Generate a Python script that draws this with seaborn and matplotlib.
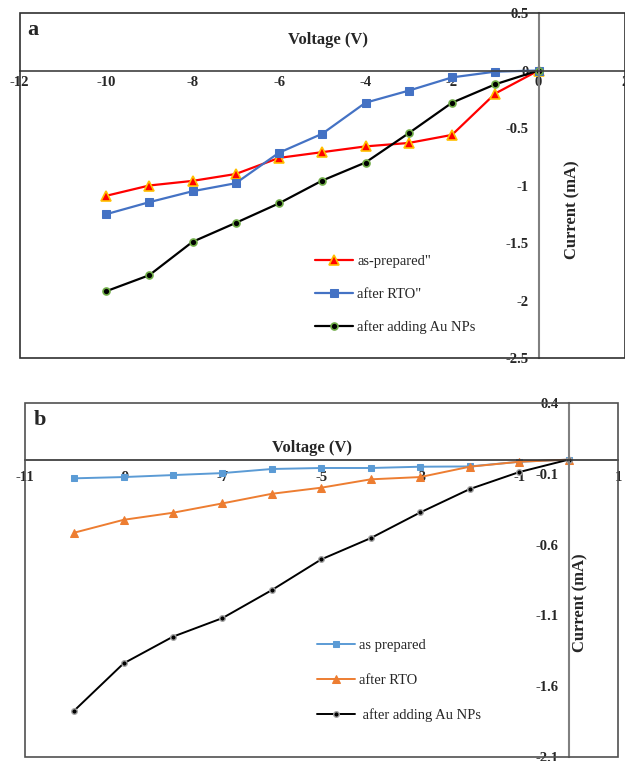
import matplotlib
matplotlib.use("Agg")
import matplotlib.pyplot as plt
from matplotlib.patches import Rectangle
import seaborn as sns
import pandas as pd

# ---------------- data ----------------
voltage = [-10, -9, -8, -7, -6, -5, -4, -3, -2, -1, 0]

# panel a
a_as_prepared = [-1.09, -1.00, -0.96, -0.90, -0.76, -0.71, -0.66, -0.63, -0.56, -0.20, 0.0]
a_after_rto = [-1.25, -1.145, -1.05, -0.98, -0.715, -0.55, -0.28, -0.175, -0.06, -0.01, 0.0]
a_after_au = [-1.92, -1.78, -1.49, -1.325, -1.155, -0.957, -0.80, -0.545, -0.28, -0.12, 0.0]
a_labels = ['as-prepared"', 'after RTO"', 'after adding Au NPs']
a_xticks = [-12, -10, -8, -6, -4, -2, 0, 2]
a_xticklabels = ["-12", "-10", "-8", "-6", "-4", "-2", "0", "2"]
a_yticks = [0.5, 0, -0.5, -1, -1.5, -2, -2.5]
a_yticklabels = ["0.5", "0", "-0.5", "-1", "-1.5", "-2", "-2.5"]

# panel b
b_as_prepared = [-0.132, -0.123, -0.109, -0.095, -0.066, -0.059, -0.059, -0.050, -0.048, -0.015, 0.0]
b_after_rto = [-0.516, -0.425, -0.375, -0.309, -0.241, -0.198, -0.139, -0.123, -0.050, -0.015, 0.0]
b_after_au = [-1.773, -1.439, -1.25, -1.119, -0.921, -0.704, -0.554, -0.373, -0.208, -0.088, 0.0]
b_labels = ["as prepared", "after RTO", " after adding Au NPs"]
b_xticks = [-11, -9, -7, -5, -3, -1, 1]
b_xticklabels = ["-11", "-9", "-7", "-5", "-3", "-1", "1"]
b_yticks = [0.4, -0.1, -0.6, -1.1, -1.6, -2.1]
b_yticklabels = ["0.4", "-0.1", "-0.6", "-1.1", "-1.6", "-2.1"]

# ---------------- style ----------------
sns.set_style("white")
plt.rcParams["font.family"] = ["Liberation Serif", "DejaVu Serif"]

W, H = 625, 761
fig = plt.figure(figsize=(W / 100, H / 100), dpi=100)


def fx(px):
    return px / W


def fy(py):
    return 1 - py / H


def setup_axes(ax, xlim, ylim, xticks, xtl, yticks, ytl, frame_color, hcol, vcol, xdir):
    ax.set_xlim(*xlim)
    ax.set_ylim(*ylim)
    for s in ["top", "right"]:
        ax.spines[s].set_visible(False)
    ax.spines["bottom"].set_position(("data", 0))
    ax.spines["left"].set_position(("data", 0))
    ax.spines["bottom"].set_color(hcol)
    ax.spines["bottom"].set_linewidth(1.2)
    ax.spines["left"].set_color(vcol)
    ax.spines["left"].set_linewidth(1.5)
    ax.set_xticks(xticks)
    ax.set_xticklabels(xtl, fontweight="bold", fontsize=10.5)
    ax.set_yticks(yticks)
    ax.set_yticklabels(ytl, fontweight="bold", fontsize=10.5)
    ax.tick_params(axis="x", direction=xdir, length=4, width=1, color=hcol, pad=4)
    ax.tick_params(axis="y", direction="in", length=4, width=1, color=vcol, pad=7)
    ax.set_xlabel("")
    ax.set_ylabel("")
    ax.add_patch(Rectangle((0, 0), 1, 1, transform=ax.transAxes, fill=False,
                           edgecolor=frame_color, linewidth=1.2, clip_on=False, zorder=5))
    ax.patch.set_alpha(0)


# ---------------- panel a ----------------
axa = fig.add_axes([fx(19.5), fy(358), fx(625 - 19.5), (358 - 13) / H])
sns.lineplot(x=voltage, y=a_as_prepared, ax=axa, color="#FF0000", linewidth=1.6,
             marker="^", markersize=7, markerfacecolor="#FF0000",
             markeredgecolor="#FFC000", markeredgewidth=1.2, label=a_labels[0])
sns.lineplot(x=voltage, y=a_after_rto, ax=axa, color="#4472C4", linewidth=1.6,
             marker="s", markersize=5.5, markerfacecolor="#4472C4",
             markeredgecolor="#4472C4", label=a_labels[1])
sns.lineplot(x=voltage, y=a_after_au, ax=axa, color="#000000", linewidth=1.6,
             marker="o", markersize=5, markerfacecolor="#000000",
             markeredgecolor="#70AD47", markeredgewidth=1.2, label=a_labels[2])
setup_axes(axa, (-12, 2), (-2.5, 0.5), a_xticks, a_xticklabels, a_yticks, a_yticklabels,
           "#303030", "#404040", "#808080", "in")
axa.legend(loc="upper left", bbox_to_anchor=(0.488, 0.30), frameon=False,
           fontsize=10.5, labelspacing=1.35, handlelength=2.6, handletextpad=0.3,
           borderpad=0, borderaxespad=0)
fig.text(fx(33), fy(30), "a", fontsize=16, fontweight="bold", ha="center", va="center")
fig.text(fx(328), fy(40), "Voltage (V)", fontsize=12, fontweight="bold", ha="center", va="center")
fig.text(fx(572), fy(210), "Current (mA)", fontsize=12, fontweight="bold", ha="center",
         va="center", rotation=90)

# ---------------- panel b ----------------
axb = fig.add_axes([fx(24.7), fy(757), fx(618 - 24.7), (757 - 403) / H])
sns.lineplot(x=voltage, y=b_as_prepared, ax=axb, color="#5B9BD5", linewidth=1.4,
             marker="s", markersize=5, markerfacecolor="#5B9BD5",
             markeredgecolor="#5B9BD5", label=b_labels[0])
sns.lineplot(x=voltage, y=b_after_rto, ax=axb, color="#ED7D31", linewidth=1.4,
             marker="^", markersize=5.5, markerfacecolor="#ED7D31",
             markeredgecolor="#ED7D31", label=b_labels[1])
sns.lineplot(x=voltage, y=b_after_au, ax=axb, color="#000000", linewidth=1.4,
             marker="o", markersize=4, markerfacecolor="#000000",
             markeredgecolor="#A5A5A5", markeredgewidth=1.0, label=b_labels[2])
setup_axes(axb, (-11, 1), (-2.1, 0.4), b_xticks, b_xticklabels, b_yticks, b_yticklabels,
           "#505050", "#303030", "#808080", "out")
axb.legend(loc="upper left", bbox_to_anchor=(0.493, 0.333), frameon=False,
           fontsize=10.5, labelspacing=1.45, handlelength=2.6, handletextpad=0.3,
           borderpad=0, borderaxespad=0)
fig.text(fx(40), fy(420), "b", fontsize=16, fontweight="bold", ha="center", va="center")
fig.text(fx(312), fy(448), "Voltage (V)", fontsize=12, fontweight="bold", ha="center", va="center")
fig.text(fx(580), fy(603), "Current (mA)", fontsize=12, fontweight="bold", ha="center",
         va="center", rotation=90)

fig.savefig("out.png", dpi=100)
